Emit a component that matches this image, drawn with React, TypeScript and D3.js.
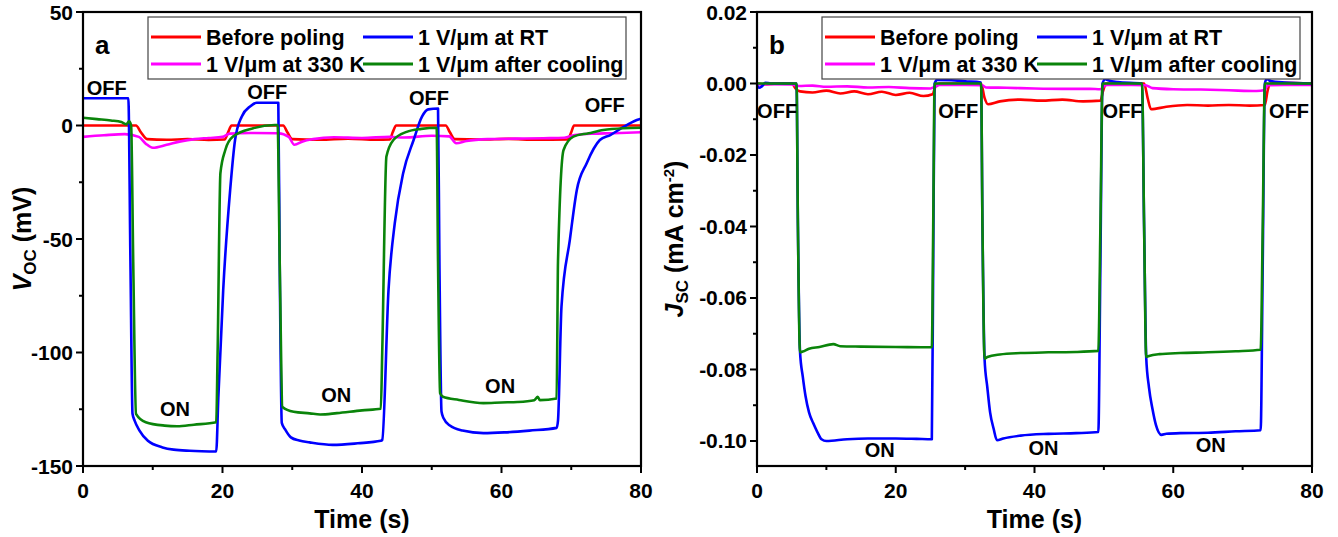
import React from "react";
import * as d3 from "d3";

// ---------- Panel a : Voc (mV) ----------
const redA_t = [0, 7.6, 8.3, 9.2, 12, 15, 18, 20.3, 20.8, 21.3, 24, 28.7, 29.3, 30, 34, 38, 42, 44, 44.4, 44.9, 48, 52, 52.6, 53.3, 57, 61, 65, 69.5, 70, 70.4, 75, 80];
const redA_v = [0, 0, -3, -6, -6.3, -6, -6.4, -6.2, -3, 0, 0, 0, -3, -6, -6.3, -5.8, -6.3, -6.1, -3, 0, 0, 0, -3, -6, -6.2, -5.9, -6.3, -6.2, -3, 0, 0, 0];

const magA_t = [0, 3, 6, 8, 9, 10, 12, 14, 16, 18, 20, 21, 24, 28, 29.5, 30.3, 31.5, 33, 36, 40, 44, 46, 50, 52.5, 53.5, 55, 58, 62, 66, 69, 70.5, 73, 76, 80];
const magA_v = [-5, -4.3, -3.8, -5, -8, -9.8, -8.5, -7, -6, -5.5, -5, -3.6, -3.3, -3.4, -5, -8.5, -7, -6, -5.2, -5.5, -5, -5.3, -4.5, -4.8, -7.8, -6.8, -6, -5.8, -5.6, -5.4, -4.2, -3.6, -3.4, -3];

const blueA_t = [0, 6.5, 6.8, 7.1, 7.4, 8.1, 9.3, 11.4, 13, 15.3, 17, 19.1, 19.4, 20.1, 21.1, 21.8, 22.75, 24, 24.9, 28.0, 28.2, 28.5, 29.0, 29.8, 31, 32.5, 35.8, 39.4, 42.7, 42.9, 43.8, 44.7, 45.9, 47.4, 48.6, 49.5, 50.9, 51.1, 51.4, 51.7, 52.6, 54.4, 57.4, 60.4, 64, 67.9, 68.1, 68.6, 69.8, 70.8, 72.2, 74.1, 75.6, 77.2, 79.4, 80];
const blueA_v = [12, 12, -60, -127, -130, -134.4, -138.9, -141.8, -142.8, -143.3, -143.5, -143.6, -120, -72.5, -28.4, -6.4, 3.9, 8.5, 10, 10, -60, -131, -134, -137.4, -138.8, -139.6, -140.7, -140, -138.9, -138.5, -72.5, -43, -21, -6.4, 3.9, 7.1, 7.5, -60, -126, -129, -132.2, -134.4, -135.5, -135.2, -134.4, -133.2, -130, -79.8, -50.4, -28.4, -16.7, -6.4, -4.2, -1.2, 2.4, 3];

const greenA_t = [0, 2, 4, 5.5, 6.2, 6.6, 6.9, 7.2, 7.6, 9, 11.7, 13.5, 15.9, 19.1, 19.3, 19.7, 20.4, 21.5, 24.4, 27.5, 27.9, 28.2, 28.6, 30.2, 32.5, 34, 36.4, 40, 42.7, 42.9, 43.5, 44.5, 46.4, 48.5, 50.7, 50.9, 51.2, 51.6, 53.9, 57.4, 60, 62.3, 64.7, 65.2, 65.5, 67.9, 68.1, 68.9, 70.3, 72.5, 74.6, 77.5, 80];
const greenA_v = [3.4, 2.8, 2.2, 1.5, 0.5, 1.8, 0, -60, -127, -130.7, -132.2, -132.5, -131.8, -130.7, -100, -21, -10.8, -4.9, -1.2, 0.2, 0.2, -60, -124, -126.1, -126.8, -127.3, -126.7, -125.5, -124.8, -100, -13.7, -6.4, -2.8, -1.5, -1, -60, -118, -119.5, -120.9, -122.3, -122, -121.8, -121, -119.5, -121, -120.3, -60, -10.8, -4.9, -3.4, -2, -1.2, -1];

// ---------- Panel b : Jsc (mA cm^-2) ----------
const redB_t = [0, 1, 3, 5, 5.6, 6.2, 8, 10, 12, 14, 16, 18, 20, 22, 24, 25.3, 25.8, 26.3, 28, 30, 32.3, 32.8, 33.3, 35, 38, 41, 44, 47, 49.5, 49.9, 50.3, 53, 55.8, 56.3, 56.8, 59, 62, 65, 68, 71, 73.2, 73.6, 74, 76, 80];
const redB_v = [0, -0.0002, 0, 0, -0.0015, -0.0022, -0.0025, -0.002, -0.0028, -0.0022, -0.003, -0.0023, -0.0032, -0.0026, -0.0035, -0.003, -0.0005, 0, 0, 0, 0, -0.004, -0.0058, -0.005, -0.0045, -0.0048, -0.0045, -0.005, -0.0048, -0.002, 0, 0, 0, -0.004, -0.0072, -0.0065, -0.006, -0.0062, -0.006, -0.0062, -0.006, -0.002, 0, 0.0002, 0];

const magB_t = [0, 2, 5, 6, 8, 10, 13, 16, 19, 22, 25, 25.8, 26.3, 30, 32.5, 33, 36, 40, 44, 48, 49.5, 50, 50.5, 54, 56, 57, 60, 64, 68, 72, 73.2, 73.6, 76, 80];
const magB_v = [-0.0003, -0.0002, -0.0003, -0.0007, -0.0006, -0.0009, -0.0008, -0.0011, -0.001, -0.0013, -0.0014, -0.0008, -0.0004, -0.0004, -0.0005, -0.0011, -0.0012, -0.0014, -0.0015, -0.0015, -0.0016, -0.0008, -0.0004, -0.0004, -0.0005, -0.0013, -0.0016, -0.0017, -0.0019, -0.0021, -0.0018, -0.0005, -0.0004, -0.0004];

const blueB_t = [0, 0.3, 0.7, 1.2, 2, 5.7, 5.9, 6.2, 6.6, 7.0, 7.5, 8.1, 8.7, 9.3, 10, 13, 16, 20, 23, 25.2, 25.4, 25.6, 26, 28, 30, 32.3, 32.5, 32.8, 33.2, 33.6, 34.1, 34.6, 35.5, 38, 42, 46, 49.2, 49.5, 49.8, 50.2, 50.6, 52, 55.5, 55.8, 56.1, 56.5, 57, 57.5, 58.3, 59, 61, 65, 69, 72.6, 72.9, 73.2, 73.5, 73.9, 76, 80];
const blueB_v = [-0.0005, -0.0012, -0.0008, 0.0002, 0, 0, -0.04, -0.075, -0.082, -0.0875, -0.092, -0.095, -0.0975, -0.0995, -0.1, -0.0995, -0.0993, -0.0993, -0.0994, -0.0995, -0.05, 0, 0.001, 0.0009, 0.0006, 0.0003, -0.04, -0.077, -0.085, -0.092, -0.0965, -0.0998, -0.0993, -0.0985, -0.098, -0.0978, -0.0975, -0.05, 0, 0.0012, 0.0009, 0.0004, 0, -0.04, -0.0765, -0.085, -0.091, -0.0955, -0.0983, -0.098, -0.0978, -0.0977, -0.0973, -0.097, -0.05, 0, 0.0013, 0.0008, 0.0003, 0];

const greenB_t = [0, 5.7, 5.9, 6.2, 6.6, 7.5, 9, 11, 12, 15, 20, 25.2, 25.4, 25.6, 26, 32.3, 32.5, 32.8, 33.2, 35, 38, 42, 46, 49.2, 49.5, 49.8, 50.2, 55.5, 55.8, 56.1, 56.5, 58, 61, 65, 69, 72.6, 72.9, 73.2, 73.6, 80];
const greenB_v = [0, 0, -0.04, -0.0752, -0.075, -0.0742, -0.0737, -0.0729, -0.0735, -0.0736, -0.0737, -0.0738, -0.04, 0, 0, 0, -0.04, -0.077, -0.0765, -0.0758, -0.0754, -0.0752, -0.0751, -0.0748, -0.04, 0, 0, 0, -0.04, -0.0765, -0.0762, -0.0757, -0.0754, -0.0752, -0.0749, -0.0745, -0.04, 0, 0, 0];

// ---------- ticks & labels ----------
const xTicks = [0, 20, 40, 60, 80];
const xMinor = [10, 30, 50, 70];
const yTicksA = [50, 0, -50, -100, -150];
const yMinorA = [25, -25, -75, -125];
const yTicksB = [0.02, 0.0, -0.02, -0.04, -0.06, -0.08, -0.1];
const yMinorB = [0.01, -0.01, -0.03, -0.05, -0.07, -0.09];

const legendNames = ["Before poling", "1 V/\u03bcm at RT", "1 V/\u03bcm at 330 K", "1 V/\u03bcm after cooling"];
const colors = ["#ff0000", "#0000ff", "#ff00ff", "#0a840a"];

const offLabelsA = [{ t: 3.4, v: 13.4 }, { t: 26.4, v: 11.7 }, { t: 49.6, v: 9.0 }, { t: 74.8, v: 5.9 }];
const onLabelsA = [{ t: 13.2, v: -128 }, { t: 36.3, v: -122 }, { t: 59.8, v: -117.8 }];
const offLabelsB = [{ t: 2.9, v: -0.0097 }, { t: 29.0, v: -0.0097 }, { t: 52.7, v: -0.0097 }, { t: 76.7, v: -0.0097 }];
const onLabelsB = [{ t: 17.7, v: -0.1045 }, { t: 41.3, v: -0.1038 }, { t: 65.4, v: -0.1032 }];

const FONT = "'Liberation Sans', Arial, Helvetica, sans-serif";

function zip(t: number[], v: number[]) {
  return t.map((x, i) => [x, v[i]] as [number, number]);
}

type PanelProps = {
  x0: number; x1: number; y0: number; y1: number;
  yDomain: [number, number];
  yTicks: number[]; yMinor: number[]; yFmt: (d: number) => string;
  series: [number, number][][];
  letter: string;
  legendX: number;
  offLabels: { t: number; v: number }[];
  onLabels: { t: number; v: number }[];
  yTitle: React.ReactNode;
  yTitleX: number;
};

function Panel(p: PanelProps) {
  const x = d3.scaleLinear().domain([0, 80]).range([p.x0, p.x1]);
  const y = d3.scaleLinear().domain(p.yDomain).range([p.y1, p.y0]);
  const line = d3.line<[number, number]>().x(d => x(d[0])).y(d => y(d[1])).curve(d3.curveMonotoneX);
  const order = [0, 2, 1, 3];
  const lx = p.legendX;
  return (
    <g fontFamily={FONT} fontWeight="bold">
      <defs>
        <clipPath id={"clip" + p.letter}>
          <rect x={p.x0} y={p.y0} width={p.x1 - p.x0} height={p.y1 - p.y0} />
        </clipPath>
      </defs>
      <g clipPath={`url(#clip${p.letter})`}>
        {order.map(i => (
          <path key={i} d={line(p.series[i]) || ""} fill="none" stroke={colors[i]} strokeWidth={2.6} strokeLinejoin="round" />
        ))}
      </g>
      {/* frame */}
      <rect x={p.x0} y={p.y0} width={p.x1 - p.x0} height={p.y1 - p.y0} fill="none" stroke="#000" strokeWidth={2.2} />
      {/* x ticks */}
      {xTicks.map(t => (
        <g key={"xt" + t}>
          <line x1={x(t)} x2={x(t)} y1={p.y1} y2={p.y1 + 7} stroke="#000" strokeWidth={2} />
          <text x={x(t)} y={p.y1 + 32} textAnchor="middle" fontSize={21}>{t}</text>
        </g>
      ))}
      {xMinor.map(t => (
        <line key={"xm" + t} x1={x(t)} x2={x(t)} y1={p.y1} y2={p.y1 + 4} stroke="#000" strokeWidth={2} />
      ))}
      {p.yTicks.map(t => (
        <g key={"yt" + t}>
          <line x1={p.x0 - 7} x2={p.x0} y1={y(t)} y2={y(t)} stroke="#000" strokeWidth={2} />
          <text x={p.x0 - 10} y={y(t) + 7.5} textAnchor="end" fontSize={21}>{p.yFmt(t)}</text>
        </g>
      ))}
      {p.yMinor.map(t => (
        <line key={"ym" + t} x1={p.x0 - 4} x2={p.x0} y1={y(t)} y2={y(t)} stroke="#000" strokeWidth={2} />
      ))}
      <text x={(p.x0 + p.x1) / 2} y={528} textAnchor="middle" fontSize={25}>Time (s)</text>
      <text transform={`translate(${p.yTitleX},${(p.y0 + p.y1) / 2}) rotate(-90)`} textAnchor="middle" fontSize={25}>{p.yTitle}</text>
      {/* panel letter */}
      <text x={p.x0 + 12} y={54} fontSize={26}>{p.letter}</text>
      {/* legend */}
      <rect x={lx} y={17} width={478} height={62} fill="#fff" stroke="#444" strokeWidth={1.2} />
      {[0, 1, 2, 3].map(i => {
        const col = i % 2;
        const row = Math.floor(i / 2);
        const sx = lx + 3 + col * 212;
        const sy = 37 + row * 27;
        return (
          <g key={"lg" + i}>
            <line x1={sx} x2={sx + 50} y1={sy} y2={sy} stroke={colors[i]} strokeWidth={2.8} />
            <text x={sx + 55} y={sy + 7.5} fontSize={21.5}>{legendNames[i]}</text>
          </g>
        );
      })}
      {p.offLabels.map((o, i) => (
        <text key={"off" + i} x={x(o.t)} y={y(o.v)} textAnchor="middle" fontSize={20}>OFF</text>
      ))}
      {p.onLabels.map((o, i) => (
        <text key={"on" + i} x={x(o.t)} y={y(o.v)} textAnchor="middle" fontSize={20}>ON</text>
      ))}
    </g>
  );
}

export default function App() {
  const seriesA = [zip(redA_t, redA_v), zip(blueA_t, blueA_v), zip(magA_t, magA_v), zip(greenA_t, greenA_v)];
  const seriesB = [zip(redB_t, redB_v), zip(blueB_t, blueB_v), zip(magB_t, magB_v), zip(greenB_t, greenB_v)];
  return (
    <svg width={1338} height={537} style={{ position: "absolute", left: 0, top: 0, background: "#fff" }}>
      <rect width={1338} height={537} fill="#fff" />
      <Panel
        x0={83} x1={641} y0={12} y1={466}
        yDomain={[-150, 50]}
        yTicks={yTicksA} yMinor={yMinorA} yFmt={d => String(d)}
        series={seriesA}
        letter="a"
        legendX={148}
        offLabels={offLabelsA}
        onLabels={onLabelsA}
        yTitleX={31}
        yTitle={<><tspan fontStyle="italic">V</tspan><tspan fontSize={17} dy={5}>OC</tspan><tspan dy={-5}> (mV)</tspan></>}
      />
      <Panel
        x0={757} x1={1312} y0={12} y1={466}
        yDomain={[-0.107, 0.02]}
        yTicks={yTicksB} yMinor={yMinorB} yFmt={d => d3.format(".2f")(d).replace("\u2212", "-")}
        series={seriesB}
        letter="b"
        legendX={822}
        offLabels={offLabelsB}
        onLabels={onLabelsB}
        yTitleX={683}
        yTitle={<><tspan fontStyle="italic">J</tspan><tspan fontSize={17} dy={5}>SC</tspan><tspan dy={-5}> (mA cm</tspan><tspan fontSize={15} dy={-9}>-2</tspan><tspan dy={9}>)</tspan></>}
      />
    </svg>
  );
}
